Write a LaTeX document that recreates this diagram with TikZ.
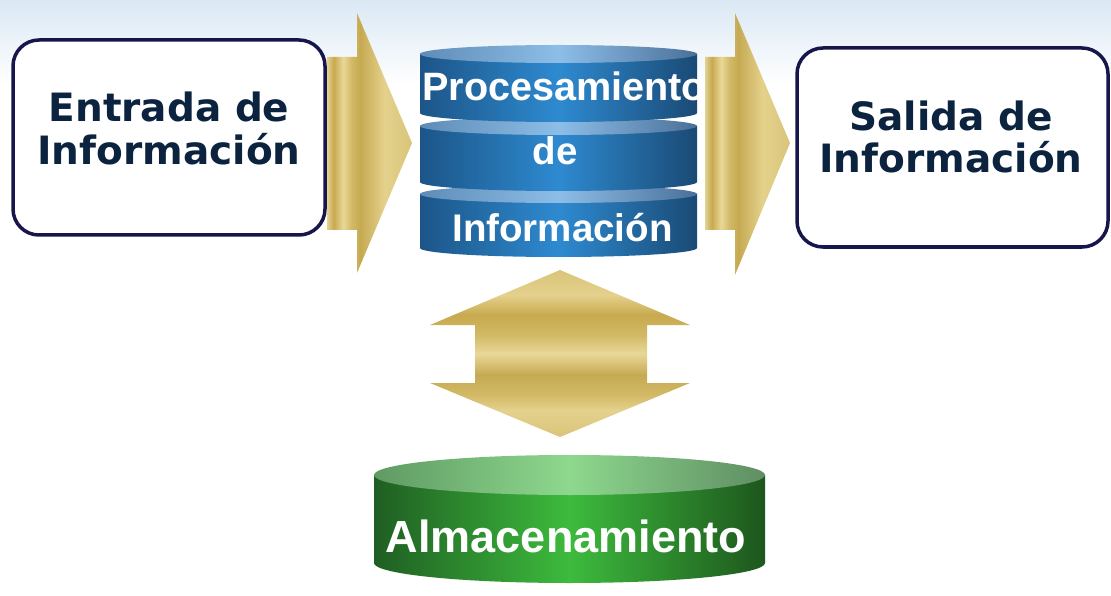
\documentclass[tikz,border=0pt]{standalone}
\usepackage{fontspec}
\newfontfamily\boxfont{DejaVu Sans}
\newfontfamily\arialfont{Liberation Sans}
\definecolor{navyline}{HTML}{16164C}
\definecolor{navytext}{HTML}{0C2340}
\definecolor{skytop}{HTML}{DAE8F4}
\definecolor{gA}{HTML}{E2D394}
\definecolor{gB}{HTML}{C8A94F}
\definecolor{gC}{HTML}{E8D898}
\definecolor{gD}{HTML}{D2B966}
\definecolor{gE}{HTML}{C6AA52}
\definecolor{gF}{HTML}{E4D18C}
\definecolor{gG}{HTML}{D9C479}
\definecolor{bEdgeL}{HTML}{1C5588}
\definecolor{bMid}{HTML}{2E8AD0}
\definecolor{bEdgeR}{HTML}{1A4A75}
\definecolor{btL}{HTML}{5E8CB6}
\definecolor{btM}{HTML}{8DBEE8}
\definecolor{btR}{HTML}{4A7098}
\definecolor{gnL}{HTML}{1F5E22}
\definecolor{gnM}{HTML}{3DBB3D}
\definecolor{gnR}{HTML}{1D561D}
\definecolor{gtL}{HTML}{5F9A63}
\definecolor{gtM}{HTML}{8ED88E}
\definecolor{gtR}{HTML}{5F8E63}
\pgfdeclarehorizontalshading{goldH}{100bp}{color(0bp)=(gA); color(25bp)=(gA); color(29bp)=(gB); color(34.5bp)=(gC); color(39.5bp)=(gD); color(44.5bp)=(gE); color(59bp)=(gF); color(75bp)=(gG); color(100bp)=(gG)}
\pgfdeclareverticalshading{goldV}{100bp}{color(0bp)=(gG); color(25bp)=(gG); color(33bp)=(gF); color(37.6bp)=(gD); color(43.6bp)=(gE); color(50bp)=(gC); color(55.5bp)=(gD); color(61.5bp)=(gB); color(67.5bp)=(gF); color(75bp)=(gG); color(100bp)=(gG)}
\tikzset{
  infobox/.style={draw=navyline, line width=3.5pt, fill=white, rounded corners=26pt, inner sep=0pt},
  boxtext/.style={font=\boxfont\bfseries\fontsize{39}{42.5}\selectfont, text=navytext, align=center, inner sep=0pt},
  cyltext/.style={font=\arialfont\bfseries\fontsize{38.5}{40}\selectfont, text=white, inner sep=0pt},
  goldarrow/.style={shading=goldH},
  goldvarrow/.style={shading=goldV},
}
\begin{document}
\begin{tikzpicture}[x=1pt,y=-1pt]
\useasboundingbox (0,0) rectangle (1111,596);
% background
\fill[white] (0,0) rectangle (1111,596);
\shade[top color=skytop, bottom color=white] (0,0) rectangle (1111,85);

% boxes
\node[infobox, minimum width=312pt, minimum height=195pt] (in) at (169,137.5) {};
\node[boxtext] (intext) at (169,128.5) {Entrada de\\Información};
\node[infobox, minimum width=311pt, minimum height=199pt] (out) at (952.5,147.5) {};
\node[boxtext] (outtext) at (951,137.2) {Salida de\\Información};

% horizontal arrows
\shade[goldarrow] (327,57) -- (357,57) -- (357,13) -- (412,143) -- (357,273) -- (357,230) -- (327,230) -- cycle;
\shade[goldarrow] (705,57) -- (735,57) -- (735,13) -- (790,143) -- (735,275) -- (735,230) -- (705,230) -- cycle;

% double vertical arrow
\shade[goldvarrow] (560,270) -- (690,325) -- (647,325) -- (647,383) -- (690,383) -- (560,437) -- (430,383) -- (475,383) -- (475,325) -- (430,325) -- cycle;

% blue stacked cylinder
\foreach \t/\b in {194/248,126/182,54/113}{
  \shade[left color=bEdgeL, right color=bEdgeR, middle color=bMid] (420,\t) -- (420,\b) arc[start angle=180, end angle=360, x radius=138.5pt, y radius=9pt] -- (697,\t) -- cycle;
  \shade[left color=btL, right color=btR, middle color=btM] (558.5,\t) ellipse[x radius=138.5pt, y radius=9pt];
}
\begin{scope}
\clip (420,40) rectangle (697,260);
\node[cyltext, font=\arialfont\bfseries\fontsize{39.6}{40}\selectfont, anchor=base west] (proc1) at (422,101) {Procesamiento};
\end{scope}
\node[cyltext, anchor=base] (proc2) at (555,165) {de};
\node[cyltext, anchor=base] (proc3) at (562.5,242) {Información};

% green cylinder
\shade[left color=gnL, right color=gnR, middle color=gnM] (374,475) -- (374,563) arc[start angle=180, end angle=360, x radius=195.5pt, y radius=20pt] -- (765,475) -- cycle;
\shade[left color=gtL, right color=gtR, middle color=gtM] (569.5,475) ellipse[x radius=195.5pt, y radius=20pt];
\node[cyltext, font=\arialfont\bfseries\fontsize{45}{48}\selectfont, anchor=base] (store) at (566,552) {Almacenamiento};
\end{tikzpicture}
\end{document}
